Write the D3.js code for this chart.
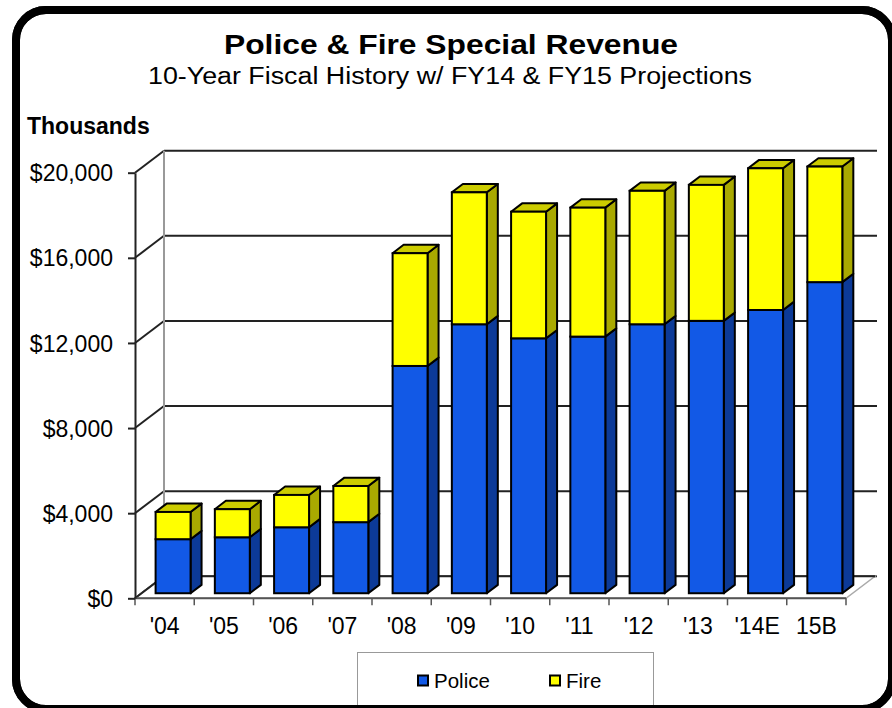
<!DOCTYPE html>
<html>
<head>
<meta charset="utf-8">
<script src="https://cdn.jsdelivr.net/npm/d3@7"></script>
<style>
  html, body { margin: 0; padding: 0; background: #fff; }
  svg { display: block; font-family: Arial, "Liberation Sans", sans-serif; }
</style>
</head>
<body>
<svg id="chart" width="892" height="708"></svg>
<script>
// Fiscal years and revenue (thousands of dollars)
const categories = ["'04", "'05", "'06", "'07", "'08", "'09", "'10", "'11", "'12", "'13", "'14E", "15B"];
const police = [2540, 2630, 3100, 3340, 10680, 12640, 11980, 12060, 12640, 12800, 13310, 14620];
const fire   = [1280, 1320, 1520, 1700, 5300, 6200, 5950, 6060, 6270, 6390, 6660, 5430];
const yTicks = [0, 4000, 8000, 12000, 16000, 20000];
const seriesNames = ["Police", "Fire"];

const svg = d3.select("#chart");

// Outer rounded frame
svg.append("rect")
  .attr("x", 16).attr("y", 10).attr("width", 876).attr("height", 699)
  .attr("rx", 30).attr("ry", 30)
  .attr("fill", "#fff").attr("stroke", "#000").attr("stroke-width", 8);

// Titles
svg.append("text")
  .attr("x", 451).attr("y", 54).attr("text-anchor", "middle")
  .attr("font-size", 28).attr("font-weight", "bold")
  .attr("textLength", 454).attr("lengthAdjust", "spacingAndGlyphs")
  .text("Police & Fire Special Revenue");
svg.append("text")
  .attr("x", 450).attr("y", 84).attr("text-anchor", "middle")
  .attr("font-size", 23.5)
  .attr("textLength", 604).attr("lengthAdjust", "spacingAndGlyphs")
  .text("10-Year Fiscal History w/ FY14 & FY15 Projections");
svg.append("text")
  .attr("x", 27).attr("y", 134)
  .attr("font-size", 23).attr("font-weight", "bold")
  .text("Thousands");

// Scales with a simple oblique projection for depth
const x = d3.scaleBand().domain(categories).range([135, 846]);
const y = d3.scaleLinear().domain([0, 20000]).range([598.3, 172.7]);
const DX = 29, DZ = 22;                 // full depth offset of the wall
const px = (xv, z) => xv + z * DX;
const py = (yv, z) => yv - z * DZ;

const step = x.step();
const barOff = step * 0.235, barW = step * 0.59;
const zFront = 0.23, zBack = 0.61;

// Back wall gridlines
const g = svg.append("g");
g.selectAll("line.grid").data(yTicks).join("line")
  .attr("class", "grid")
  .attr("x1", px(135, 1)).attr("x2", px(848, 1))
  .attr("y1", d => py(y(d), 1)).attr("y2", d => py(y(d), 1))
  .attr("stroke", "#222").attr("stroke-width", 2);

// Side wall diagonals
g.selectAll("line.side").data(yTicks).join("line")
  .attr("class", "side")
  .attr("x1", px(135, 0)).attr("x2", px(135, 1))
  .attr("y1", d => y(d)).attr("y2", d => py(y(d), 1))
  .attr("stroke", "#222").attr("stroke-width", 2);

// Back wall left edge
g.append("line")
  .attr("x1", px(135, 1)).attr("x2", px(135, 1))
  .attr("y1", py(y(0), 1)).attr("y2", py(y(20000), 1))
  .attr("stroke", "#999").attr("stroke-width", 2);

// Floor
const floorPts = [[px(135, 0), y(0)], [px(846, 0), y(0)], [px(846, 1), py(y(0), 1)], [px(135, 1), py(y(0), 1)]];
g.append("path")
  .attr("d", "M" + floorPts.map(p => p.join(",")).join("L") + "Z")
  .attr("fill", "#fff").attr("stroke", "#aaa").attr("stroke-width", 1.5);
g.append("line")
  .attr("x1", px(135, 1)).attr("x2", px(846, 1))
  .attr("y1", py(y(0), 1)).attr("y2", py(y(0), 1))
  .attr("stroke", "#222").attr("stroke-width", 2);
g.append("line")
  .attr("x1", px(135, 0)).attr("x2", px(135, 1))
  .attr("y1", y(0)).attr("y2", py(y(0), 1))
  .attr("stroke", "#222").attr("stroke-width", 2);

// Front edge of the floor with category dividers
g.append("line")
  .attr("x1", 135).attr("x2", 846).attr("y1", y(0)).attr("y2", y(0))
  .attr("stroke", "#555").attr("stroke-width", 2);
const bounds = categories.map(c => x(c)).concat([x.range()[1]]);
g.selectAll("line.ctick").data(bounds).join("line")
  .attr("class", "ctick")
  .attr("x1", d => d).attr("x2", d => d)
  .attr("y1", y(0)).attr("y2", y(0) + 7)
  .attr("stroke", "#555").attr("stroke-width", 1.5);

// Value axis (front)
const yAxis = svg.append("g").attr("transform", "translate(135,0)")
  .call(d3.axisLeft(y).tickValues(yTicks).tickFormat(d => "$" + d3.format(",")(d))
    .tickSize(7).tickSizeOuter(0).tickPadding(15));
yAxis.select(".domain").attr("stroke", "#222").attr("stroke-width", 2);
yAxis.selectAll(".tick line").attr("stroke", "#222").attr("stroke-width", 2);
yAxis.selectAll(".tick text").attr("font-size", 23).attr("fill", "#000")
  .attr("font-family", "Arial, 'Liberation Sans', sans-serif").attr("dy", "0.35em");

// Category axis labels
const xAxis = svg.append("g").attr("transform", `translate(0,${y(0)})`)
  .call(d3.axisBottom(x).tickSize(0).tickPadding(19.5));
xAxis.select(".domain").remove();
xAxis.selectAll(".tick text").attr("font-size", 23).attr("fill", "#000")
  .attr("font-family", "Arial, 'Liberation Sans', sans-serif");

// Stacked 3D bars
const colors = {
  Police: { front: "#1259e6", side: "#0c3a98", top: "#1c4fc0" },
  Fire:   { front: "#ffff00", side: "#a9a900", top: "#cccc00" }
};
const stackData = categories.map((c, i) => ({ cat: c, Police: police[i], Fire: fire[i] }));
const stacked = d3.stack().keys(seriesNames)(stackData);

const bars = svg.append("g");
const poly = pts => "M" + pts.map(p => p.join(",")).join("L") + "Z";
categories.forEach((c, i) => {
  const x0 = x(c) + barOff, x1 = x0 + barW;
  stacked.forEach((layer, li) => {
    const [v0, v1] = layer[i];
    const col = colors[layer.key];
    const yb = y(v0), yt = y(v1);
    // side face
    bars.append("path").attr("d", poly([
      [px(x1, zFront), py(yb, zFront)], [px(x1, zBack), py(yb, zBack)],
      [px(x1, zBack), py(yt, zBack)], [px(x1, zFront), py(yt, zFront)]
    ])).attr("fill", col.side).attr("stroke", "#000").attr("stroke-width", 2).attr("stroke-linejoin", "round");
    // top face only for the top segment
    if (li === stacked.length - 1) {
      bars.append("path").attr("d", poly([
        [px(x0, zFront), py(yt, zFront)], [px(x1, zFront), py(yt, zFront)],
        [px(x1, zBack), py(yt, zBack)], [px(x0, zBack), py(yt, zBack)]
      ])).attr("fill", col.top).attr("stroke", "#000").attr("stroke-width", 2).attr("stroke-linejoin", "round");
    }
    // front face
    bars.append("rect")
      .attr("x", px(x0, zFront)).attr("y", py(yt, zFront))
      .attr("width", barW).attr("height", yb - yt)
      .attr("fill", col.front).attr("stroke", "#000").attr("stroke-width", 2);
  });
});

// Legend
const leg = svg.append("g");
leg.append("rect").attr("x", 357.5).attr("y", 652.5).attr("width", 296).attr("height", 60)
  .attr("fill", "#fff").attr("stroke", "#999").attr("stroke-width", 1);
const legX = [417, 549];
seriesNames.forEach((s, i) => {
  leg.append("rect").attr("x", legX[i] + 1).attr("y", 675.5).attr("width", 10).attr("height", 10)
    .attr("fill", colors[s].front).attr("stroke", "#000").attr("stroke-width", 2);
  leg.append("text").attr("x", legX[i] + 17).attr("y", 688)
    .attr("font-size", 20.5).attr("fill", "#000").text(s);
});

// Redraw the bottom frame edge over the legend box
svg.append("rect")
  .attr("x", 16).attr("y", 10).attr("width", 876).attr("height", 699)
  .attr("rx", 30).attr("ry", 30)
  .attr("fill", "none").attr("stroke", "#000").attr("stroke-width", 8);
</script>
</body>
</html>
